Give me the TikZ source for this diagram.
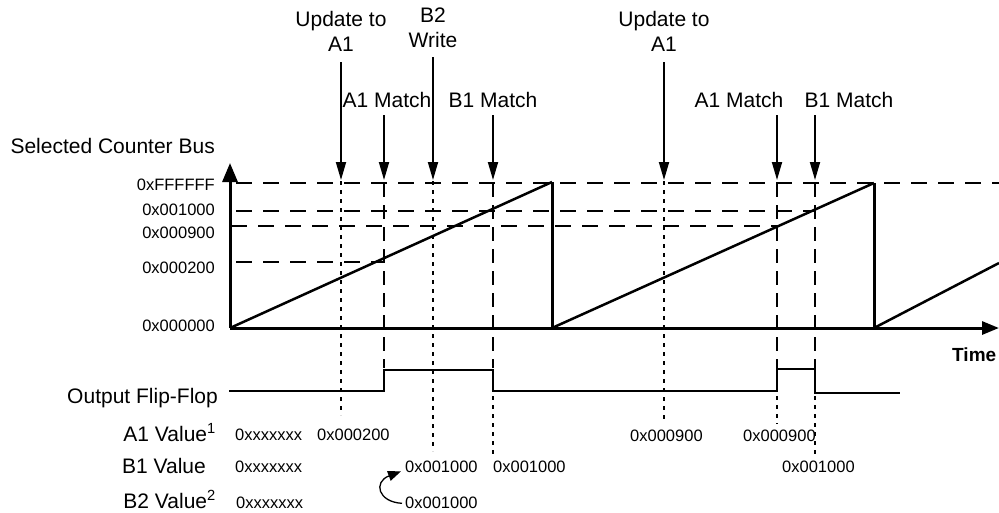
\documentclass[tikz,border=0pt]{standalone}
\usepackage{fontspec}
\setmainfont{Liberation Sans}
\usetikzlibrary{arrows.meta}
\begin{document}
\begin{tikzpicture}[x=1pt,y=-1pt,
  lbl/.style={font=\fontsize{21}{25}\selectfont, inner sep=0pt},
  hex/.style={font=\fontsize{16.5}{19}\selectfont, inner sep=0pt, anchor=base west},
  axlbl/.style={font=\fontsize{16.5}{19}\selectfont, inner sep=0pt, anchor=base east},
  evarrow/.style={line width=1.8pt, -{Triangle[length=18pt,width=10pt]}},
  guide/.style={line width=1.8pt, dash pattern=on 16pt off 11pt},
  matchline/.style={line width=1.8pt, dash pattern=on 14pt off 8pt},
  dotline/.style={line width=1.8pt, dash pattern=on 4pt off 5pt},
  axisline/.style={line width=3pt},
  ramp/.style={line width=2.5pt},
  ffline/.style={line width=2pt, line join=miter}]
\useasboundingbox (0,0) rectangle (999,512);

% event x positions
\coordinate (eU1) at (341,0);
\coordinate (eA1) at (384,0);
\coordinate (eW)  at (433,0);
\coordinate (eB1) at (493,0);
\coordinate (eU2) at (664,0);
\coordinate (eA2) at (777,0);
\coordinate (eB2) at (815,0);

% origin and axes
\coordinate (O) at (230,328);
\coordinate (ytip) at (230,163);
\coordinate (xtip) at (999,328);

% horizontal guide levels
\draw[guide] (236,183) -- (999,183);
\draw[guide] (236,211) -- (eB2 |- 0,211);
\draw[guide] (231,226) -- (eA2 |- 0,226);
\draw[guide] (236,262) -- (eA1 |- 0,262);

% vertical event lines
\draw[dotline] (eU1 |- 0,181) -- (eU1 |- 0,415);
\draw[matchline] (eA1 |- 0,183) -- (eA1 |- 0,368);
\draw[dotline] (eW |- 0,181) -- (eW |- 0,451);
\draw[matchline] (eB1 |- 0,183) -- (eB1 |- 0,368);
\draw[dotline] (eB1 |- 0,396) -- (eB1 |- 0,454);
\draw[dotline] (eU2 |- 0,181) -- (eU2 |- 0,421);
\draw[matchline] (eA2 |- 0,183) -- (eA2 |- 0,368);
\draw[dotline] (eA2 |- 0,396) -- (eA2 |- 0,424);
\draw[matchline] (eB2 |- 0,183) -- (eB2 |- 0,368);
\draw[dotline] (eB2 |- 0,396) -- (eB2 |- 0,455);

% axes
\draw[axisline, -{Triangle[length=19pt,width=15pt]}] (O) -- (ytip);
\draw[axisline, -{Triangle[length=17pt,width=13pt]}] (O) -- (xtip);

% sawtooth
\coordinate (p1) at (552,182);
\coordinate (b1) at (552,328);
\coordinate (p2) at (874,183);
\coordinate (b2) at (874,328);
\coordinate (r3) at (999,263);
\draw[ramp] (O) -- (p1);
\draw[axisline] (p1) -- (b1);
\draw[ramp] (b1) -- (p2);
\draw[axisline] (p2) -- (b2);
\draw[ramp] (b2) -- (r3);

% event arrows and labels
\node[lbl, align=center, anchor=south] (tU1) at (341,52) {Update to\\A1};
\node[lbl, align=center, anchor=south] (tW) at (433,48) {B2\\Write};
\node[lbl, anchor=base] (tA1) at (387,107) {A1 Match};
\node[lbl, anchor=base] (tB1) at (493,107) {B1 Match};
\node[lbl, align=center, anchor=south] (tU2) at (664,52) {Update to\\A1};
\node[lbl, anchor=base] (tA2) at (739,107) {A1 Match};
\node[lbl, anchor=base] (tB2) at (849,107) {B1 Match};

\draw[evarrow] (eU1 |- 0,62) -- (eU1 |- 0,180);
\draw[evarrow] (eA1 |- 0,115) -- (eA1 |- 0,180);
\draw[evarrow] (eW |- 0,57) -- (eW |- 0,180);
\draw[evarrow] (eB1 |- 0,115) -- (eB1 |- 0,180);
\draw[evarrow] (eU2 |- 0,62) -- (eU2 |- 0,180);
\draw[evarrow] (eA2 |- 0,115) -- (eA2 |- 0,180);
\draw[evarrow] (eB2 |- 0,115) -- (eB2 |- 0,180);

% axis labels
\node[lbl, anchor=base east] (bus) at (215,153) {Selected Counter Bus};
\node[axlbl] (lF) at (215,190) {0xFFFFFF};
\node[axlbl] (l1000) at (215,215) {0x001000};
\node[axlbl] (l900) at (215,238) {0x000900};
\node[axlbl] (l200) at (215,273) {0x000200};
\node[axlbl] (l0) at (215,331) {0x000000};
\node[font=\fontsize{19}{22}\selectfont\bfseries, inner sep=0pt, anchor=base west] (time) at (952,361) {Time};

% output flip-flop
\node[lbl, anchor=base east] (ffl) at (218,403) {Output Flip-Flop};
\draw[ffline] (229,391) -- (eA1 |- 0,391) -- (eA1 |- 0,370) -- (eB1 |- 0,370)
  -- (eB1 |- 0,391) -- (eA2 |- 0,391) -- (eA2 |- 0,369) -- (eB2 |- 0,369)
  -- (eB2 |- 0,393) -- (900,393);

% value rows
\node[lbl, anchor=base east] (a1v) at (216,441) {A1 Value\textsuperscript{1}};
\node[lbl, anchor=base east] (b1v) at (206,473) {B1 Value};
\node[lbl, anchor=base east] (b2v) at (216,508) {B2 Value\textsuperscript{2}};

\node[hex] (a1x) at (235,440) {0xxxxxxx};
\node[hex] (a1a) at (317,440) {0x000200};
\node[hex] (a1b) at (630,441) {0x000900};
\node[hex] (a1c) at (743,441) {0x000900};

\node[hex] (b1x) at (235,472) {0xxxxxxx};
\node[hex] (b1a) at (405,472) {0x001000};
\node[hex] (b1b) at (493,472) {0x001000};
\node[hex] (b1c) at (782,472) {0x001000};

\node[hex] (b2x) at (236,508) {0xxxxxxx};
\node[hex] (b2a) at (405,508) {0x001000};

\draw[line width=1.3pt, -{Triangle[length=13pt,width=10pt]}]
  ([xshift=-3pt,yshift=-1pt]b2a.west) .. controls (378,502) and (373,482) .. ([xshift=-4pt,yshift=-5pt]b1a.west);
\end{tikzpicture}
\end{document}
